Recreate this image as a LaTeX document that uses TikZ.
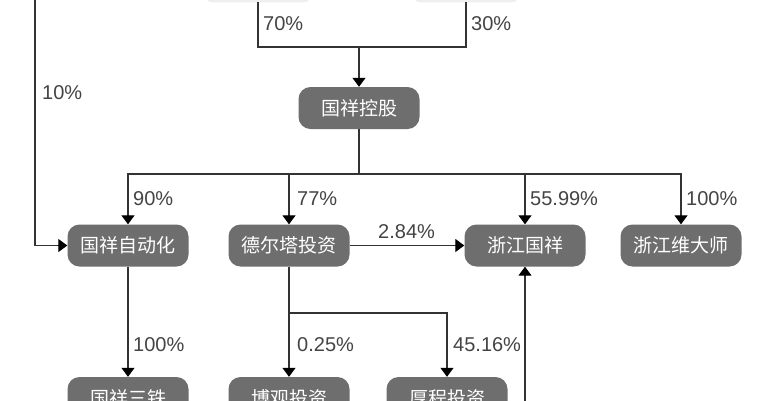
\documentclass[tikz,border=0pt]{standalone}
\usepackage{fontspec}
\setmainfont{Liberation Sans}
\newfontfamily\cjk{Noto Sans CJK SC}
\usetikzlibrary{arrows.meta}
\definecolor{boxgray}{HTML}{6E6E6E}
\definecolor{linegray}{HTML}{333333}
\definecolor{txtgray}{HTML}{444444}
\definecolor{topgray}{HTML}{F0F0F0}
\begin{document}
\begin{tikzpicture}[x=1bp,y=-1bp,
  entity/.style={rounded corners=12bp, fill=boxgray, text=white,
    minimum width=121bp, minimum height=42bp, inner sep=0pt,
    font=\cjk\fontsize{19bp}{22bp}\selectfont},
  topbox/.style={rounded corners=12bp, fill=topgray, draw=topgray!95!black,
    line width=0.4bp, minimum width=112bp, minimum height=42bp},
  pct/.style={text=txtgray, font=\fontsize{20bp}{24bp}\selectfont,
    inner sep=0pt, anchor=base west},
  conn/.style={draw=linegray, line width=1.2bp},
  arr/.style={conn, -{Triangle[width=13bp,length=9bp,color=black]}}]
\useasboundingbox (0,0) rectangle (764,400);
\clip (0,0) rectangle (764,400);
\fill[white] (0,0) rectangle (764,400);

% top (cropped) boxes
\node[topbox] (t1) at (258,-19) {};
\node[topbox] (t2) at (466,-19) {};

% row 1
\node[entity] (gk) at (359,108) {国祥控股};
% row 2
\node[entity] (a1) at (128,245.5) {国祥自动化};
\node[entity] (a2) at (289,245.5) {德尔塔投资};
\node[entity] (a3) at (525,245.5) {浙江国祥};
\node[entity] (a4) at (681,245.5) {浙江维大师};
% row 3
\node[entity] (c1) at (128,398) {国祥三铁};
\node[entity] (c2) at (289,398) {博观投资};
\node[entity] (c3) at (447,398) {厚程投资};

\coordinate (j1) at (359,47);
\coordinate (j2) at (359,174);
\coordinate (j3) at (289,313);
\coordinate (l0) at (35,-2);
\coordinate (b0) at (525,402);

\draw[conn] (t1.south) |- (j1) -| (t2.south);
\draw[arr] (j1) -- (gk);
\draw[conn] (gk) -- (j2);
\draw[arr] (j2) -| (a1);
\draw[arr] (j2) -| (a2);
\draw[arr] (j2) -| (a3);
\draw[arr] (j2) -| (a4);
\draw[arr] (l0) |- (a1);
\draw[arr] (a2) -- (a3);
\draw[arr] (b0) -- (a3);
\draw[arr] (a1) -- (c1);
\draw[arr] (a2) -- (c2);
\draw[arr] (j3) -| (c3);

% labels
\node[pct] (p70) at (263,30) {70\%};
\node[pct] (p30) at (471,30) {30\%};
\node[pct] (p10) at (42,99) {10\%};
\node[pct] (p90) at (133,205) {90\%};
\node[pct] (p77) at (297,205) {77\%};
\node[pct] (p5599) at (530,205) {55.99\%};
\node[pct] (p100a) at (686,205) {100\%};
\node[pct] (p284) at (378,238) {2.84\%};
\node[pct] (p100b) at (133,351) {100\%};
\node[pct] (p025) at (297,351) {0.25\%};
\node[pct] (p4516) at (453,351) {45.16\%};
\end{tikzpicture}
\end{document}
